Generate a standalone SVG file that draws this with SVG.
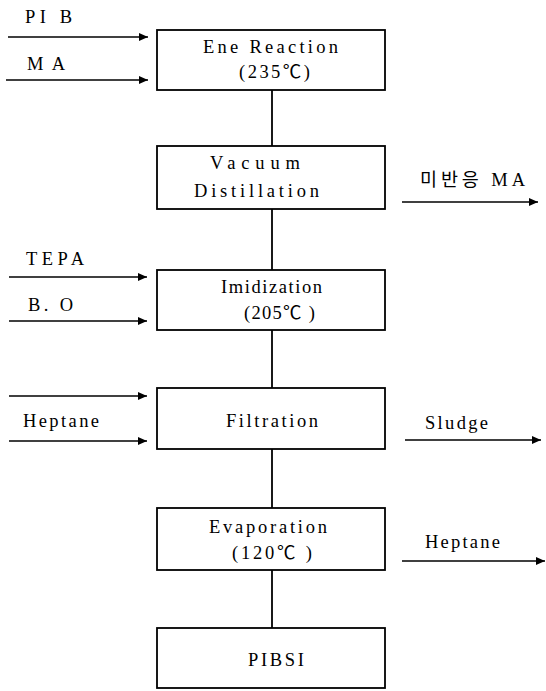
<svg xmlns="http://www.w3.org/2000/svg" width="546" height="691" viewBox="0 0 546 691">
<defs>
<marker id="ah" markerUnits="userSpaceOnUse" markerWidth="10" markerHeight="8" refX="9" refY="4" orient="auto">
<path d="M0,0 L9,4 L0,8 z" fill="#000"/>
</marker>
<style>
text{font-family:"Liberation Serif","Noto Sans CJK KR",serif;font-size:18.5px;fill:#000;}
.box{fill:#fff;stroke:#000;stroke-width:1.8;}
.ln{stroke:#000;stroke-width:1.8;fill:none;}
.ar{stroke:#000;stroke-width:1.6;fill:none;marker-end:url(#ah);}
</style>
</defs>
<rect width="546" height="691" fill="#fff"/>
<g id="connectors">
<line class="ln" x1="272" y1="90" x2="272" y2="146"/>
<line class="ln" x1="272" y1="209" x2="272" y2="270"/>
<line class="ln" x1="272" y1="330" x2="272" y2="388"/>
<line class="ln" x1="272" y1="449" x2="272" y2="508"/>
<line class="ln" x1="272" y1="570" x2="272" y2="628"/>
<line class="ar" x1="8" y1="37" x2="148" y2="37"/>
<line class="ar" x1="6" y1="80" x2="148" y2="80"/>
<line class="ar" x1="9" y1="277" x2="147" y2="277"/>
<line class="ar" x1="9" y1="321" x2="147" y2="321"/>
<line class="ar" x1="9" y1="396" x2="147" y2="396"/>
<line class="ar" x1="9" y1="441" x2="147" y2="441"/>
<line class="ar" x1="402" y1="202" x2="538" y2="202"/>
<line class="ar" x1="405" y1="440" x2="541" y2="440"/>
<line class="ar" x1="402" y1="561" x2="545" y2="561"/>
<text x="25" y="23" textLength="47" lengthAdjust="spacing">PI B</text>
<text x="27" y="70" textLength="38" lengthAdjust="spacing">M A</text>
<text x="26" y="265" textLength="58" lengthAdjust="spacing">TEPA</text>
<text x="28" y="311" textLength="45" lengthAdjust="spacing">B. O</text>
<text x="23" y="427" textLength="76" lengthAdjust="spacing">Heptane</text>
<text x="420" y="186" textLength="105" lengthAdjust="spacing">미반응 MA</text>
<text x="425" y="429" textLength="63" lengthAdjust="spacing">Sludge</text>
<text x="425" y="548" textLength="75" lengthAdjust="spacing">Heptane</text>
</g>
<g id="ene">
<rect class="box" x="157" y="30" width="228" height="60"/>
<text x="203" y="53" textLength="135" lengthAdjust="spacing">Ene Reaction</text>
<text x="239" y="78" textLength="71" lengthAdjust="spacing">(235℃)</text>
</g>
<g id="vacuum">
<rect class="box" x="157" y="146" width="228" height="63"/>
<text x="210" y="169" textLength="90" lengthAdjust="spacing">Vacuum</text>
<text x="194" y="197" textLength="125" lengthAdjust="spacing">Distillation</text>
</g>
<g id="imidization">
<rect class="box" x="157" y="270" width="228" height="60"/>
<text x="221" y="293" textLength="101" lengthAdjust="spacing">Imidization</text>
<text x="244" y="319" textLength="71" lengthAdjust="spacing">(205℃ )</text>
</g>
<g id="filtration">
<rect class="box" x="157" y="388" width="228" height="61"/>
<text x="226" y="427" textLength="92" lengthAdjust="spacing">Filtration</text>
</g>
<g id="evaporation">
<rect class="box" x="157" y="508" width="228" height="62"/>
<text x="209" y="533" textLength="118" lengthAdjust="spacing">Evaporation</text>
<text x="232" y="559" textLength="80" lengthAdjust="spacing">(120℃ )</text>
</g>
<g id="pibsi">
<rect class="box" x="157" y="628" width="228" height="60"/>
<text x="248" y="666" textLength="56" lengthAdjust="spacing">PIBSI</text>
</g>
</svg>
